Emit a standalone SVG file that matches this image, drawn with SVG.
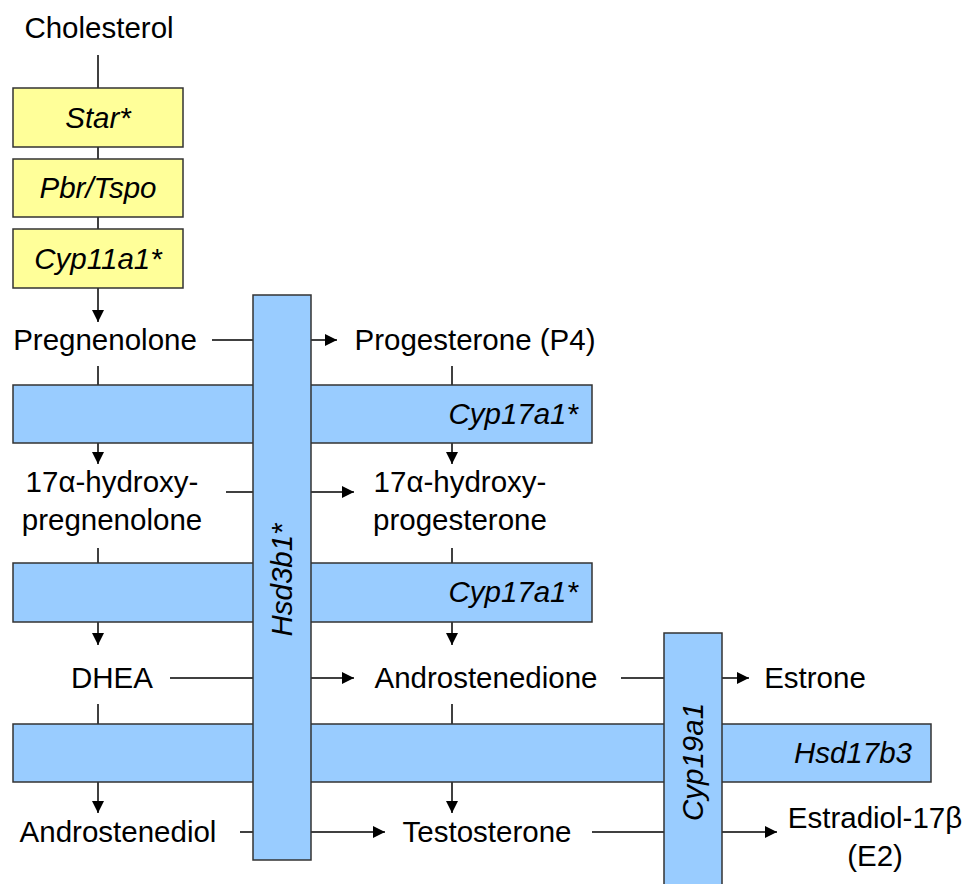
<svg xmlns="http://www.w3.org/2000/svg" width="971" height="884" viewBox="0 0 971 884">
<defs>
<marker id="ah" viewBox="0 0 12 12" refX="12" refY="6" markerWidth="12" markerHeight="12" markerUnits="userSpaceOnUse" orient="auto">
<path d="M0,0 L12,6 L0,12 Z" fill="#000"/>
</marker>
<style>
text{font-family:"Liberation Sans",Arial,sans-serif;font-size:29.5px;fill:#000}
.c{text-anchor:middle}
.i{font-style:italic}
.r{text-anchor:end}
.y{fill:#FFFF99;stroke:#333;stroke-width:1.5}
.b{fill:#99CCFF;stroke:#333;stroke-width:1.5}
.l{stroke:#000;stroke-width:1.5;fill:none}
.a{stroke:#000;stroke-width:1.5;fill:none;marker-end:url(#ah)}
</style>
</defs>
<rect width="971" height="884" fill="#fff"/>

<g id="connectors">
<line class="l" x1="98" y1="55" x2="98" y2="88"/>
<line class="l" x1="98" y1="147" x2="98" y2="159"/>
<line class="l" x1="98" y1="217" x2="98" y2="229"/>
<line class="a" x1="98" y1="288" x2="98" y2="322"/>
<line class="l" x1="212" y1="340" x2="253" y2="340"/>
<line class="a" x1="311" y1="340" x2="337" y2="340"/>
<line class="l" x1="98" y1="366" x2="98" y2="385"/>
<line class="l" x1="452" y1="366" x2="452" y2="385"/>
<line class="a" x1="98" y1="443" x2="98" y2="464"/>
<line class="a" x1="452" y1="443" x2="452" y2="464"/>
<line class="l" x1="226" y1="492" x2="253" y2="492"/>
<line class="a" x1="311" y1="492" x2="354" y2="492"/>
<line class="l" x1="98" y1="548" x2="98" y2="563"/>
<line class="l" x1="452" y1="548" x2="452" y2="563"/>
<line class="a" x1="98" y1="622" x2="98" y2="645"/>
<line class="a" x1="452" y1="622" x2="452" y2="645"/>
<line class="l" x1="170" y1="678" x2="253" y2="678"/>
<line class="a" x1="311" y1="678" x2="354" y2="678"/>
<line class="l" x1="621" y1="678" x2="664" y2="678"/>
<line class="a" x1="722" y1="678" x2="749" y2="678"/>
<line class="l" x1="98" y1="704" x2="98" y2="724"/>
<line class="l" x1="452" y1="704" x2="452" y2="724"/>
<line class="a" x1="98" y1="782" x2="98" y2="813"/>
<line class="a" x1="452" y1="782" x2="452" y2="813"/>
<line class="l" x1="240" y1="832" x2="253" y2="832"/>
<line class="a" x1="311" y1="832" x2="385" y2="832"/>
<line class="l" x1="592" y1="832" x2="664" y2="832"/>
<line class="a" x1="722" y1="832" x2="777" y2="832"/>
</g>

<g id="cholesterol"><text class="c" x="99" y="38">Cholesterol</text></g>
<g id="star"><rect class="y" x="13" y="88" width="170" height="59"/><text class="c i" x="98" y="128">Star*</text></g>
<g id="pbr"><rect class="y" x="13" y="159" width="170" height="58"/><text class="c i" x="98" y="198">Pbr/Tspo</text></g>
<g id="cyp11a1"><rect class="y" x="13" y="229" width="170" height="59"/><text class="c i" x="98" y="269">Cyp11a1*</text></g>

<g id="cyp17a1-1"><rect class="b" x="13" y="385" width="579" height="58"/><text class="r i" x="578" y="424">Cyp17a1*</text></g>
<g id="cyp17a1-2"><rect class="b" x="13" y="563" width="579" height="59"/><text class="r i" x="578" y="602">Cyp17a1*</text></g>
<g id="hsd17b3"><rect class="b" x="13" y="724" width="918" height="58"/><text class="r i" x="912" y="763">Hsd17b3</text></g>
<g id="hsd3b1"><rect class="b" x="253" y="295" width="58" height="565"/><text class="c i" transform="translate(292,580) rotate(-90)">Hsd3b1*</text></g>
<g id="cyp19a1"><rect class="b" x="664" y="633" width="58" height="260"/><text class="c i" transform="translate(703,762) rotate(-90)">Cyp19a1</text></g>

<g id="pregnenolone"><text class="c" x="105" y="350">Pregnenolone</text></g>
<g id="progesterone"><text class="c" x="475" y="350">Progesterone (P4)</text></g>
<g id="ohpreg"><text class="c" x="112" y="492">17α-hydroxy-</text><text class="c" x="112" y="530">pregnenolone</text></g>
<g id="ohprog"><text class="c" x="460" y="492">17α-hydroxy-</text><text class="c" x="460" y="530">progesterone</text></g>
<g id="dhea"><text class="c" x="112" y="688">DHEA</text></g>
<g id="androstenedione"><text class="c" x="486" y="688">Androstenedione</text></g>
<g id="estrone"><text class="c" x="815" y="688">Estrone</text></g>
<g id="androstenediol"><text class="c" x="118" y="842">Androstenediol</text></g>
<g id="testosterone"><text class="c" x="487" y="842">Testosterone</text></g>
<g id="estradiol"><text class="c" x="875" y="828">Estradiol-17β</text><text class="c" x="875" y="866">(E2)</text></g>
</svg>
